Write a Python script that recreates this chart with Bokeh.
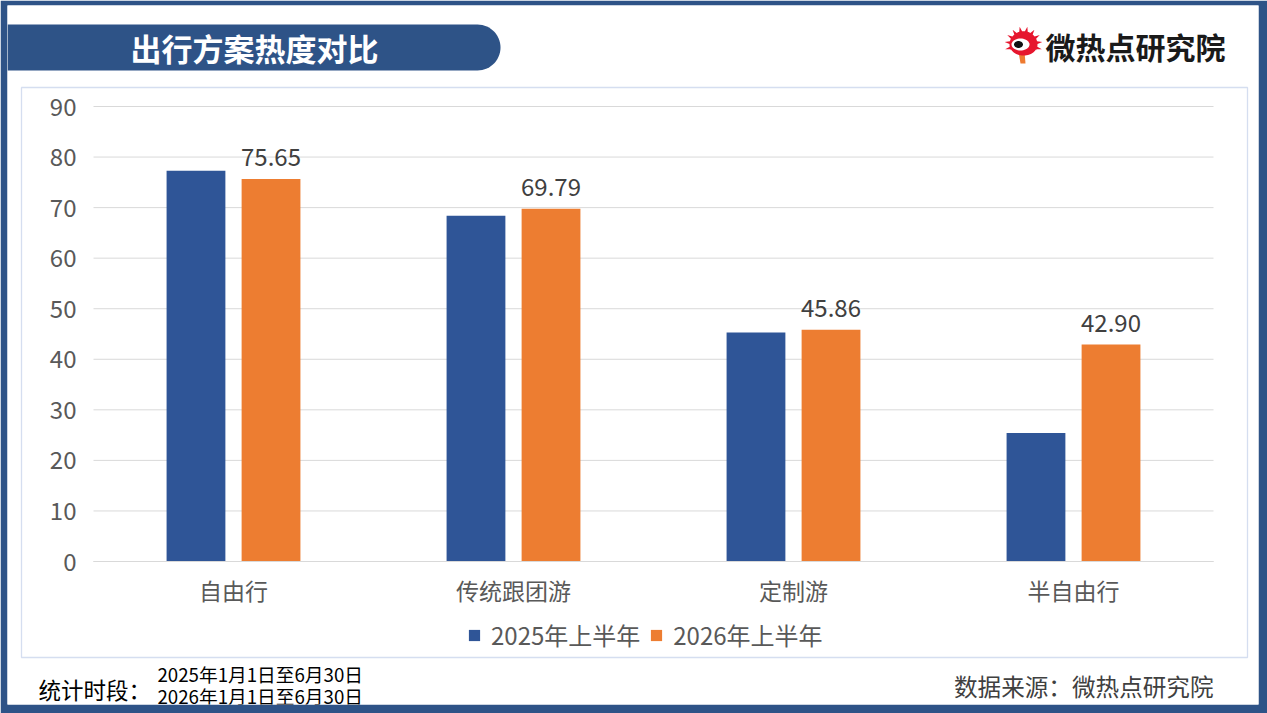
import math
from bokeh.plotting import figure
from bokeh.models import (ColumnDataSource, Legend, LegendItem, Label, BoxAnnotation,
                          PolyAnnotation, Range1d, FixedTicker)
from bokeh.transform import dodge
from bokeh.core.properties import value
from bokeh.embed import file_html
from bokeh.resources import INLINE

# ---------------- data ----------------
categories = ["自由行", "传统跟团游", "定制游", "半自由行"]
series_names = ["2025年上半年", "2026年上半年"]
values_2025 = [77.3, 68.4, 45.3, 25.4]
values_2026 = [75.65, 69.79, 45.86, 42.90]
y_ticks = [0, 10, 20, 30, 40, 50, 60, 70, 80, 90]

title_text = "出行方案热度对比"
brand_text = "微热点研究院"
period_label = "统计时段："
period_lines = ["2025年1月1日至6月30日", "2026年1月1日至6月30日"]
source_text = "数据来源：微热点研究院"

FONT = "Noto Sans CJK SC"
BLUE = "#2F5597"
ORANGE = "#ED7D31"
DARK = "#2E5387"

# category slots on a numeric axis (slot i spans i..i+1)
cat_pos = [i + 0.5 for i in range(len(categories))]
n_cat = len(categories)

src = ColumnDataSource(dict(
    x=cat_pos,
    cat=categories,
    y2025=values_2025,
    y2026=values_2026,
    lbl=["%.2f" % v for v in values_2026],
))
grid_src = ColumnDataSource(dict(y=y_ticks, x0=[0] * len(y_ticks), x1=[n_cat] * len(y_ticks)))

W, H = 1267, 713
# frame spans page x 7..1258, y 6..704 ; outside it the dark border colour shows
BL, BR, BT, BB = 7, 9, 5, 9
PX_PER_CAT = 280.0
PX_PER_UNIT = 455.0 / 90.0
x_start = -(93 - BL) / PX_PER_CAT
x_end = n_cat + (W - BR - 1213) / PX_PER_CAT
y_start = -((H - BB) - 561) / PX_PER_UNIT
y_end = 90 + (106 - BT) / PX_PER_UNIT

p = figure(width=W, height=H, x_range=Range1d(x_start, x_end), y_range=Range1d(y_start, y_end),
           output_backend="svg", toolbar_location=None, title=None,
           min_border_left=BL, min_border_right=BR, min_border_top=BT, min_border_bottom=BB)
p.outline_line_color = None
p.background_fill_color = "white"
p.border_fill_color = DARK
p.xgrid.visible = False
p.ygrid.visible = False

# horizontal gridlines limited to the category span
p.segment(x0="x0", x1="x1", y0="y", y1="y", source=grid_src, line_color="#D9D9D9", line_width=1)

r1 = p.vbar(x=dodge("x", -0.134), top="y2025", width=0.21,
            source=src, fill_color=BLUE, line_color=None)
r2 = p.vbar(x=dodge("x", 0.134), top="y2026", width=0.21,
            source=src, fill_color=ORANGE, line_color=None)
p.text(x=dodge("x", 0.134), y="y2026", text="lbl", source=src,
       text_align="center", text_baseline="bottom", y_offset=-13,
       text_font=value(FONT), text_font_size="24px", text_color="#404040")

# axes drawn at fixed data locations inside the frame
p.yaxis.fixed_location = 0
p.yaxis.bounds = (0, 90)
p.yaxis.ticker = FixedTicker(ticks=y_ticks)
p.yaxis.axis_line_color = None
p.yaxis.major_tick_line_color = None
p.yaxis.minor_tick_line_color = None
p.yaxis.major_label_standoff = 11
p.yaxis.major_label_text_font = FONT
p.yaxis.major_label_text_font_size = "24px"
p.yaxis.major_label_text_color = "#595959"

p.xaxis.fixed_location = 0
p.xaxis.bounds = (0, n_cat)
p.xaxis.ticker = FixedTicker(ticks=cat_pos)
p.xaxis.major_label_overrides = {pos: name for pos, name in zip(cat_pos, categories)}
p.xaxis.axis_line_color = "#D9D9D9"
p.xaxis.major_tick_line_color = None
p.xaxis.minor_tick_line_color = None
p.xaxis.major_label_standoff = 5
p.xaxis.major_label_text_font = FONT
p.xaxis.major_label_text_font_size = "23px"
p.xaxis.major_label_text_color = "#595959"

# -------- decorations (screen units relative to frame bottom-left) --------
def sx(px):
    return px - BL

def sy(py):
    return (H - BB) - py

# legend
legend = Legend(items=[LegendItem(label=series_names[0], renderers=[r1]),
                       LegendItem(label=series_names[1], renderers=[r2])],
                orientation="horizontal", location=(sx(467), sy(652)),
                glyph_width=14, glyph_height=14, label_standoff=10, spacing=9,
                padding=0, margin=0, border_line_color=None, background_fill_alpha=0,
                label_text_font=FONT, label_text_font_size="24px",
                label_text_color="#595959")
p.add_layout(legend, "center")

# chart area border
p.add_layout(BoxAnnotation(left=sx(21), right=sx(1247), top=sy(87), bottom=sy(657),
                           left_units="screen", right_units="screen",
                           top_units="screen", bottom_units="screen",
                           fill_color=None, fill_alpha=0, line_color="#7393CD", line_width=1.3))

# title banner with rounded right end
bx, by = [], []
top, bot, rad = 24, 70, 23
cxr, cyr = 500 - rad, 47
bx += [sx(BL), sx(cxr)]
by += [sy(top), sy(top)]
for i in range(0, 31):
    a = math.pi / 2 - math.pi * i / 30
    bx.append(sx(cxr + rad * math.cos(a)))
    by.append(sy(cyr - rad * math.sin(a)))
bx += [sx(BL)]
by += [sy(bot)]
p.add_layout(PolyAnnotation(xs=bx, ys=by, xs_units="screen", ys_units="screen",
                            fill_color=DARK, fill_alpha=1, line_color=None))
p.add_layout(Label(x=sx(254), y=sy(47), x_units="screen", y_units="screen", text=title_text,
                   text_align="center", text_baseline="middle", text_font=FONT,
                   text_font_style="bold", text_font_size="31px", text_color="white"))

# logo icon
def ellipse(cx, cy, rx, ry, n=40):
    xs = [sx(cx + rx * math.cos(2 * math.pi * k / n)) for k in range(n)]
    ys = [sy(cy + ry * math.sin(2 * math.pi * k / n)) for k in range(n)]
    return xs, ys

p.add_layout(PolyAnnotation(xs=[sx(1018), sx(1024), sx(1025), sx(1020)],
                            ys=[sy(51), sy(51), sy(63), sy(63)],
                            xs_units="screen", ys_units="screen",
                            fill_color="#EE7A30", fill_alpha=1, line_color=None))
rx_, ry_ = [], []
ccx, ccy = 1023, 44
for k in range(0, 41):
    ang = math.pi * (1.15 - 1.3 * k / 40)
    r = 19 if k % 4 == 2 else 14
    rx_.append(sx(ccx + r * math.cos(ang)))
    ry_.append(sy(ccy - r * math.sin(ang) * 0.95))
for k in range(0, 21):
    ang = -0.15 * math.pi - 0.7 * math.pi * k / 20
    rx_.append(sx(ccx + 14 * math.cos(ang)))
    ry_.append(sy(ccy - 11 * math.sin(ang)))
p.add_layout(PolyAnnotation(xs=rx_, ys=ry_, xs_units="screen", ys_units="screen",
                            fill_color="#E6162D", fill_alpha=1, line_color=None))
ex, ey = ellipse(1020, 44, 9, 6)
p.add_layout(PolyAnnotation(xs=ex, ys=ey, xs_units="screen", ys_units="screen",
                            fill_color="white", fill_alpha=1, line_color=None))
ex, ey = ellipse(1018, 44, 4.5, 3.5)
p.add_layout(PolyAnnotation(xs=ex, ys=ey, xs_units="screen", ys_units="screen",
                            fill_color="#111111", fill_alpha=1, line_color=None))

p.add_layout(Label(x=sx(1045), y=sy(45), x_units="screen", y_units="screen", text=brand_text,
                   text_align="left", text_baseline="middle", text_font=FONT,
                   text_font_style="bold", text_font_size="30px", text_color="#1A1A1A"))

# footers
p.add_layout(Label(x=sx(38), y=sy(688), x_units="screen", y_units="screen", text=period_label,
                   text_align="left", text_baseline="middle", text_font=FONT,
                   text_font_size="22.5px", text_color="#000000"))
for line, yy in zip(period_lines, [673, 695]):
    p.add_layout(Label(x=sx(157), y=sy(yy), x_units="screen", y_units="screen", text=line,
                       text_align="left", text_baseline="middle", text_font=FONT,
                       text_font_size="18.7px", text_color="#000000"))
p.add_layout(Label(x=sx(1213), y=sy(685), x_units="screen", y_units="screen", text=source_text,
                   text_align="right", text_baseline="middle", text_font=FONT,
                   text_font_size="23.6px", text_color="#404040"))

open("out.html", "w").write(file_html(p, INLINE))
